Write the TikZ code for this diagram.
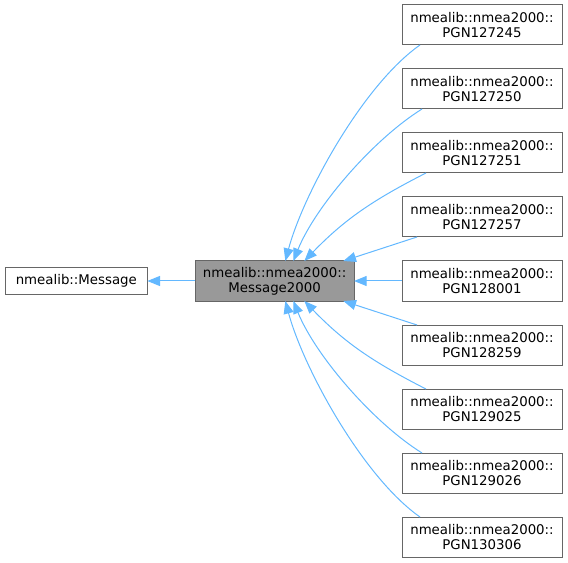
\documentclass[tikz,border=0pt]{standalone}
\usepackage{fontspec}
\setmainfont{DejaVu Sans}
\usepackage{xcolor}
\usetikzlibrary{arrows.meta,positioning}

\definecolor{edgeblue}{HTML}{63B8FF}
\definecolor{boxgray}{HTML}{666666}
\definecolor{curfill}{HTML}{999999}

\begin{document}
\begin{tikzpicture}[
    x=0.75pt, y=-0.75pt,
    node distance=18pt,
    classbox/.style={rectangle, draw=boxgray, line width=0.75pt, fill=white, minimum width=120pt, minimum height=30pt, inner sep=0pt, outer sep=0pt, align=center, font=\fontsize{10}{11.5}\selectfont},
    current/.style={classbox, fill=curfill, minimum width=119pt},
    arrow/.style={-{Triangle[length=9.5pt, width=7.5pt]}, edgeblue, line width=0.75pt},
]
    \useasboundingbox (0,0) rectangle (568,563);

    % Derived classes (right column)
    \node[classbox] (pgn127245) at (482,25) {nmealib::nmea2000::\\PGN127245};
    \node[classbox, below=of pgn127245] (pgn127250) {nmealib::nmea2000::\\PGN127250};
    \node[classbox, below=of pgn127250] (pgn127251) {nmealib::nmea2000::\\PGN127251};
    \node[classbox, below=of pgn127251] (pgn127257) {nmealib::nmea2000::\\PGN127257};
    \node[classbox, below=of pgn127257] (pgn128001) {nmealib::nmea2000::\\PGN128001};
    \node[classbox, below=of pgn128001] (pgn128259) {nmealib::nmea2000::\\PGN128259};
    \node[classbox, below=of pgn128259] (pgn129025) {nmealib::nmea2000::\\PGN129025};
    \node[classbox, below=of pgn129025] (pgn129026) {nmealib::nmea2000::\\PGN129026};
    \node[classbox, below=of pgn129026] (pgn130306) {nmealib::nmea2000::\\PGN130306};

    % Current class and its base
    \node[current, left=36pt of pgn128001] (m2000) {nmealib::nmea2000::\\Message2000};
    \node[classbox, left=36pt of m2000, minimum width=106.5pt, minimum height=19.5pt] (msg) {nmealib::Message};

    % Inheritance arrows
    \draw[arrow] (m2000) -- (msg);
    \draw[arrow] ([xshift=13.5pt]pgn127245.south west) to[out=215, in=75, looseness=0.7] ([xshift=67.5pt]m2000.north west);
    \draw[arrow] ([xshift=15pt]pgn127250.south west) to[out=212, in=68, looseness=0.75] ([xshift=73.5pt]m2000.north west);
    \draw[arrow] ([xshift=18pt]pgn127251.south west) to[out=207, in=46] ([xshift=81.75pt]m2000.north west);
    \draw[arrow] ([xshift=11.25pt]pgn127257.south west) -- ([xshift=111pt]m2000.north west);
    \draw[arrow] (pgn128001) -- (m2000);
    \draw[arrow] ([xshift=11.25pt]pgn128259.north west) -- ([xshift=111pt]m2000.south west);
    \draw[arrow] ([xshift=18pt]pgn129025.north west) to[out=153, in=314] ([xshift=81.75pt]m2000.south west);
    \draw[arrow] ([xshift=15pt]pgn129026.north west) to[out=148, in=292, looseness=0.75] ([xshift=73.5pt]m2000.south west);
    \draw[arrow] ([xshift=13.5pt]pgn130306.north west) to[out=145, in=285, looseness=0.7] ([xshift=67.5pt]m2000.south west);
\end{tikzpicture}
\end{document}
